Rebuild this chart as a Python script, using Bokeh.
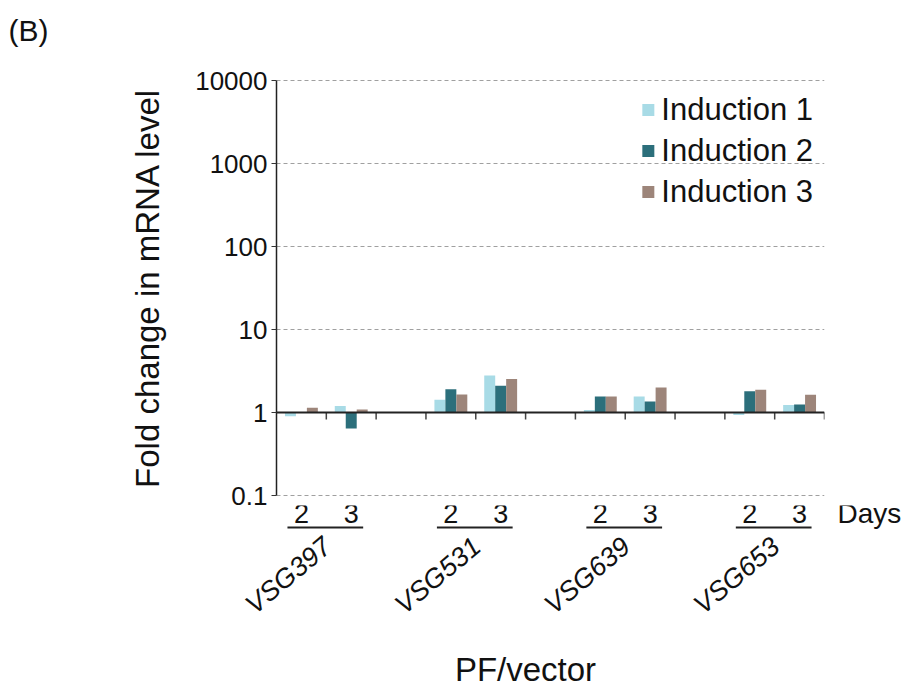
from bokeh.plotting import figure
from bokeh.layouts import column
from bokeh.models import Range1d, FixedTicker, Span, Legend, LegendItem
from bokeh.core.properties import value
from bokeh.embed import file_html
from bokeh.resources import INLINE

# --- data -------------------------------------------------------------
constructs = ["VSG397", "VSG531", "VSG639", "VSG653"]
days = ["2", "3"]
series_names = ["Induction 1", "Induction 2", "Induction 3"]
# fold change in mRNA level, per construct: day 2 then day 3
induction_1 = [0.90, 1.20, 1.42, 2.80, 1.07, 1.56, 0.93, 1.23]
induction_2 = [1.01, 0.64, 1.90, 2.10, 1.56, 1.36, 1.80, 1.25]
induction_3 = [1.14, 1.09, 1.65, 2.53, 1.56, 2.00, 1.88, 1.64]
y_ticks = [0.1, 1, 10, 100, 1000, 10000]
y_tick_labels = ["0.1", "1", "10", "100", "1000", "10000"]

colors = ["#a8dbe6", "#2c6f7b", "#9d857a"]
FONT = "Liberation Sans"
INK = "#111111"

# --- layout (pixels) ----------------------------------------------------
W, H = 911, 687
LEFT, RIGHT = 276, 87          # space left / right of the plotting area
HEADER_H = 62                  # panel holding the "(B)" tag
CHART_TOP, CHART_BOTTOM = 16, 8
PLOT_H = 419                   # plotting area: 5 decades + 2 px pad each end
PAD_PX = 2
CHART_H = CHART_TOP + PLOT_H + CHART_BOTTOM
STRIP_H = H - HEADER_H - CHART_H
BASE_Y = HEADER_H + CHART_TOP + PLOT_H - PAD_PX   # canvas row of the 0.1 line

decade_px = (PLOT_H - 2 * PAD_PX) / (len(y_ticks) - 1)
pad_dec = PAD_PX / decade_px

# each construct takes two day slots plus one empty slot
n_slots = 3 * len(constructs) - 1
slot_centers = []
for i in range(len(constructs)):
    for j in range(len(days)):
        slot_centers.append(3 * i + j + 0.5)
group_centers = [3 * i + 1.0 for i in range(len(constructs))]
px_per_slot = (W - LEFT - RIGHT) / n_slots


def no_frame_align(fig):
    if "frame_align" in fig.properties():
        fig.frame_align = False


def bare(fig):
    fig.outline_line_color = None
    fig.grid.visible = False
    fig.background_fill_color = "white"
    fig.border_fill_color = "white"
    no_frame_align(fig)


def panel_figure(height, x_range, y_range):
    return figure(width=W, height=height, output_backend="svg", toolbar_location=None,
                  title_location=None, x_range=x_range, y_range=y_range,
                  x_axis_location=None, y_axis_location=None,
                  min_border_left=0, min_border_right=0,
                  min_border_top=0, min_border_bottom=0)


# --- header -------------------------------------------------------------
h = panel_figure(HEADER_H, Range1d(0, W), Range1d(-HEADER_H, 0))
bare(h)
h.text(x=[8], y=[-30], text=["(B)"], text_font=value(FONT), text_font_size=value("30px"),
       text_color=INK, text_align="left", text_baseline="middle")

# --- main chart ---------------------------------------------------------
p = figure(width=W, height=CHART_H, output_backend="svg", toolbar_location=None,
           title_location=None,
           x_range=Range1d(0, n_slots),
           y_range=Range1d(y_ticks[0] / 10 ** pad_dec, y_ticks[-1] * 10 ** pad_dec),
           y_axis_type="log", x_axis_location=None,
           min_border_left=LEFT, min_border_right=RIGHT,
           min_border_top=CHART_TOP, min_border_bottom=CHART_BOTTOM)
p.outline_line_color = None
p.background_fill_color = "white"
p.border_fill_color = "white"
no_frame_align(p)

ax = p.yaxis[0]
ax.ticker = FixedTicker(ticks=y_ticks)
ax.bounds = (y_ticks[0], y_ticks[-1])
ax.major_label_overrides = {t: s for t, s in zip(y_ticks, y_tick_labels)}
ax.major_label_text_font = FONT
ax.major_label_text_font_size = "26px"
ax.major_label_text_color = INK
ax.major_label_standoff = 4
ax.major_tick_in = 0
ax.major_tick_out = 5
ax.major_tick_line_color = "#333333"
ax.minor_tick_line_color = None
ax.axis_line_color = "#222222"
ax.axis_line_width = 1.5
ax.axis_label = "Fold change in mRNA level"
ax.axis_label_text_font = FONT
ax.axis_label_text_font_size = "33px"
ax.axis_label_text_font_style = "normal"
ax.axis_label_text_color = INK
ax.axis_label_standoff = 26

p.xgrid.visible = False
p.ygrid.grid_line_color = "#a0a0a0"
p.ygrid.grid_line_dash = "4 3"
p.ygrid.grid_line_width = 1

# bars, grouped around each slot centre, rising or falling from 1
bar_w = 0.22
renderers = []
for k, (vals, col) in enumerate(zip([induction_1, induction_2, induction_3], colors)):
    xs = [c + (k - 1) * bar_w for c in slot_centers]
    r = p.vbar(x=xs, width=bar_w, bottom=1, top=vals,
               fill_color=col, line_color=None)
    renderers.append(r)

# baseline at fold change 1 with downward ticks at slot edges
p.add_layout(Span(location=1, dimension="width", line_color="#222222", line_width=2))
edges = [float(e) for e in range(1, n_slots + 1)]
tick_end = 10 ** (-7 / decade_px)
p.segment(x0=edges, y0=[1] * len(edges), x1=edges, y1=[tick_end] * len(edges),
          line_color="#444444", line_width=1.5)

legend = Legend(items=[LegendItem(label=n, renderers=[r]) for n, r in zip(series_names, renderers)],
                location="top_right", glyph_width=15, glyph_height=15,
                label_standoff=6, label_text_font=FONT, label_text_font_size="31px",
                label_text_color=INK, label_height=41, spacing=0,
                padding=0, margin=11, border_line_color=None, background_fill_alpha=0)
p.add_layout(legend)

# --- category strip under the chart ------------------------------------
# x in slot units (aligned with the chart), y = pixels below the chart's 0.1 line
strip_top = HEADER_H + CHART_H
q = panel_figure(STRIP_H,
                 Range1d(-LEFT / px_per_slot, n_slots + RIGHT / px_per_slot),
                 Range1d(-(H - BASE_Y), -(strip_top - BASE_Y)))
bare(q)

day_text = [days[i % len(days)] for i in range(len(slot_centers))]
q.text(x=slot_centers, y=[-18] * len(slot_centers), text=day_text,
       text_font=value(FONT), text_font_size=value("27px"), text_color=INK,
       text_align="center", text_baseline="middle")
q.text(x=[n_slots], y=[-18], text=["Days"], x_offset=13,
       text_font=value(FONT), text_font_size=value("28px"), text_color=INK,
       text_align="left", text_baseline="middle")

ul_half = 0.76
q.segment(x0=[g - ul_half - 0.02 for g in group_centers], y0=[-32] * len(group_centers),
          x1=[g + ul_half - 0.02 for g in group_centers], y1=[-32] * len(group_centers),
          line_color="#222222", line_width=2)
q.text(x=group_centers, y=[-80] * len(group_centers), text=constructs, x_offset=-38,
       angle=40, angle_units="deg",
       text_font=value(FONT), text_font_size=value("27px"), text_font_style="italic",
       text_color=INK, text_align="center", text_baseline="middle")
q.text(x=[n_slots / 2], y=[-174], text=["PF/vector"], x_offset=-25,
       text_font=value(FONT), text_font_size=value("33px"), text_color=INK,
       text_align="center", text_baseline="middle")

layout = column(h, p, q, spacing=0)
open("out.html", "w").write(file_html(layout, INLINE))
